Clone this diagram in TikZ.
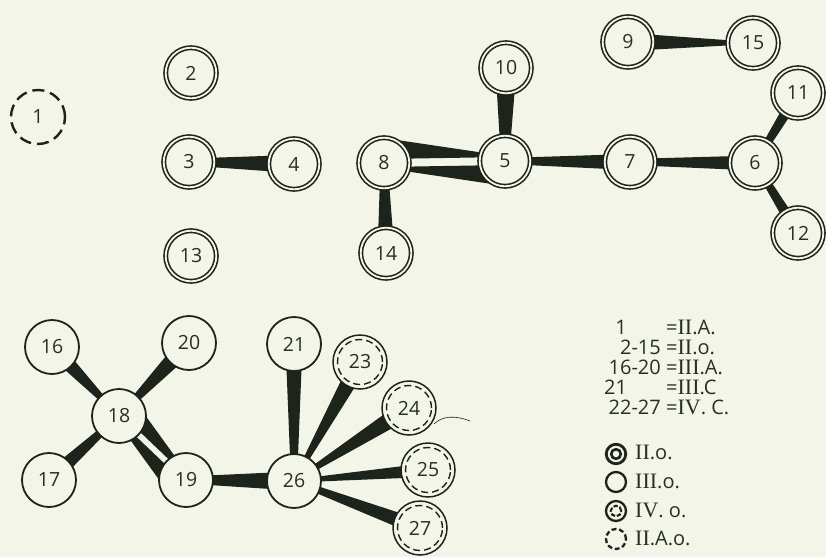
\documentclass[tikz,border=0pt]{standalone}
\usepackage{fontspec}
\setmainfont{Open Sans}
\newfontfamily\romfont[Scale=1.1]{Liberation Serif}
\usetikzlibrary{calc}
\definecolor{paper}{RGB}{244,245,233}
\definecolor{ink}{RGB}{28,36,28}
\definecolor{txt}{RGB}{40,46,40}
\pgfdeclarelayer{bg}
\pgfsetlayers{bg,main}
% #1 a, #2 b, #3/#4 edge offsets at a, #5/#6 edge offsets at b (positive = left of a->b)
\newcommand\wedgeconn[6]{%
  \fill[ink] ($(#1.center)!#3pt!90:(#2.center)$) -- ($(#2.center)!#5pt!-90:(#1.center)$)
    -- ($(#2.center)!#6pt!-90:(#1.center)$) -- ($(#1.center)!#4pt!90:(#2.center)$) -- cycle;}
\newcommand\wconn[4]{\wedgeconn{#1}{#2}{#3}{-#3}{#4}{-#4}}
\newcommand\RN[1]{{\romfont #1}}
\tikzset{
  lbl/.style={text=txt, font=\fontsize{19.5}{20}\selectfont},
  ii/.style={lbl, circle, draw=ink, line width=1.6pt, double=paper, double distance=1.8pt,
    fill=paper, minimum size=50.6pt, inner sep=0pt},
  iii/.style={lbl, circle, draw=ink, line width=1.8pt, fill=paper, minimum size=54pt, inner sep=0pt},
  iv/.style={lbl, circle, draw=ink, line width=1.5pt, fill=paper, minimum size=54pt, inner sep=0pt,
    path picture={\draw[ink, line width=1.4pt, dash pattern=on 7pt off 4pt]
      (path picture bounding box.center) circle (22.5pt);}},
  iia/.style={lbl, circle, draw=ink, line width=2.4pt, dash pattern=on 12pt off 6pt,
    fill=paper, minimum size=54pt, inner sep=0pt},
  legtxt/.style={text=txt, font=\fontsize{20}{20}\selectfont, inner sep=0pt,
    text height=13pt, text depth=0pt},
  symii/.style={circle, draw=ink, line width=2.8pt, minimum size=19.5pt, inner sep=0pt,
    path picture={\draw[ink, line width=2.6pt] (path picture bounding box.center) circle (4.8pt);}},
  symiii/.style={circle, draw=ink, line width=2.3pt, minimum size=20pt, inner sep=0pt},
  symiv/.style={circle, draw=ink, line width=2.3pt, minimum size=20pt, inner sep=0pt,
    path picture={\draw[ink, line width=2.1pt, dash pattern=on 4.5pt off 1.8pt]
      (path picture bounding box.center) circle (5.3pt);}},
  symiia/.style={circle, draw=ink, line width=2.3pt, dash pattern=on 4.8pt off 2.8pt,
    minimum size=20pt, inner sep=0pt},
}
\begin{document}
\begin{tikzpicture}[x=1pt,y=-1pt]
\useasboundingbox (0,0) rectangle (826,557);
% nodes
\node[iia] (n1) at (38,117) {1};
\node[ii] (n2) at (191,73) {2};
\node[ii] (n3) at (189,162) {3};
\node[ii] (n4) at (294,164) {4};
\node[ii] (n13) at (191,256) {13};
\node[ii] (n10) at (506,68) {10};
\node[ii] (n8) at (384,163) {8};
\node[ii] (n5) at (505,161) {5};
\node[ii] (n14) at (386,253) {14};
\node[ii] (n9) at (628,42) {9};
\node[ii] (n15) at (753,43) {15};
\node[ii] (n11) at (798,93) {11};
\node[ii] (n7) at (630,162) {7};
\node[ii] (n6) at (755,163) {6};
\node[ii] (n12) at (798,233) {12};
\node[iii] (n16) at (52,347) {16};
\node[iii] (n20) at (189,343) {20};
\node[iii] (n18) at (119,416) {18};
\node[iii] (n17) at (49,480) {17};
\node[iii] (n19) at (186,480) {19};
\node[iii] (n21) at (294,344) {21};
\node[iii] (n26) at (294,481) {26};
\node[iv] (n23) at (360,362) {23};
\node[iv] (n24) at (409,408) {24};
\node[iv] (n25) at (428,470) {25};
\node[iv] (n27) at (420,528) {27};
% stray thin line
\coordinate (c1) at (434,424);
\coordinate (c2) at (470,421);
\draw[ink, line width=0.6pt] (c1) .. controls (442,416) and (455,415) .. (c2);
% legend
\node[legtxt] (l1a) at (621,328) {1};
\node[legtxt, anchor=west] (l1b) at (666,328) {=\RN{II}.A.};
\node[legtxt, anchor=east] (l2a) at (661,348) {2-15};
\node[legtxt, anchor=west] (l2b) at (666,348) {=\RN{II}.o.};
\node[legtxt, anchor=east] (l3a) at (661,368) {16-20};
\node[legtxt, anchor=west] (l3b) at (666,368) {=\RN{III}.A.};
\node[legtxt, anchor=west] (l4a) at (604,388) {21};
\node[legtxt, anchor=west] (l4b) at (666,388) {=\RN{III}.C};
\node[legtxt, anchor=east] (l5a) at (661,408) {22-27};
\node[legtxt, anchor=west] (l5b) at (666,408) {=\RN{IV}. C.};
\node[symii] (s1) at (616,454) {};
\node[symiii] (s2) at (616,482) {};
\node[symiv] (s3) at (616,511) {};
\node[symiia] (s4) at (616,539) {};
\node[legtxt, anchor=west] (t1) at (635,453) {\RN{II}.o.};
\node[legtxt, anchor=west] (t2) at (635,482) {\RN{III}.o.};
\node[legtxt, anchor=west] (t3) at (635,511) {\RN{IV}. o.};
\node[legtxt, anchor=west] (t4) at (635,539) {\RN{II}.A.o.};
% connectors
\begin{pgfonlayer}{bg}
\fill[paper] (0,0) rectangle (826,557);
\wconn{n3}{n4}{3.5}{9}
\wconn{n10}{n5}{10.5}{4}
\wconn{n8}{n14}{3.5}{8.5}
\wconn{n5}{n7}{3}{8}
\wconn{n7}{n6}{3}{7.5}
\wconn{n9}{n15}{9}{1}
\wconn{n6}{n11}{3}{6}
\wconn{n6}{n12}{3}{6}
\wedgeconn{n8}{n5}{25}{4}{5}{4}
\wedgeconn{n8}{n5}{-4}{-5}{-4}{-25}
\wconn{n16}{n18}{8.5}{1.5}
\wconn{n20}{n18}{9.5}{2}
\wconn{n17}{n18}{8}{2.5}
\wedgeconn{n18}{n19}{22}{3}{5}{3}
\wedgeconn{n18}{n19}{-3}{-5}{-3}{-22}
\wconn{n19}{n26}{3.5}{9.5}
\wconn{n21}{n26}{8.5}{3}
\wconn{n23}{n26}{9}{1.5}
\wconn{n24}{n26}{9.5}{1.5}
\wconn{n25}{n26}{7}{1.5}
\wconn{n27}{n26}{8}{2.5}
\end{pgfonlayer}
\end{tikzpicture}
\end{document}
